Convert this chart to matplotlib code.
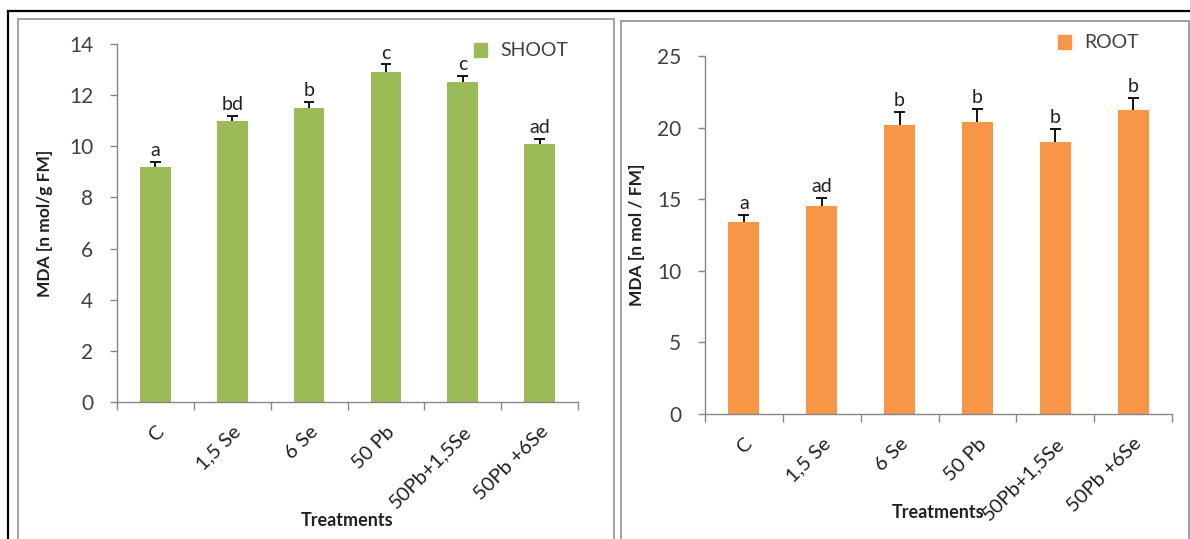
import matplotlib

matplotlib.use("Agg")
import matplotlib.pyplot as plt
from matplotlib.lines import Line2D
from matplotlib.patches import Rectangle
import numpy as np

W, H = 1190, 539

treatments = ["C", "1,5 Se", "6 Se", "50 Pb", "50Pb+1,5Se", "50Pb +6Se"]

shoot_mda = [9.2, 11.0, 11.5, 12.9, 12.5, 10.1]
shoot_err = [0.2, 0.2, 0.25, 0.3, 0.25, 0.2]
shoot_letters = ["a", "bd", "b", "c", "c", "ad"]

root_mda = [13.4, 14.5, 20.2, 20.4, 19.0, 21.2]
root_err = [0.5, 0.6, 0.9, 0.9, 0.9, 0.9]
root_letters = ["a", "ad", "b", "b", "b", "b"]

GREEN = "#9bbb59"
ORANGE = "#f79646"
AXIS = "#868686"
TXT = "#404040"

plt.rcParams["font.family"] = ["Lato", "DejaVu Sans"]


def px_rect(x0, y0, x1, y1):
    """pixel box (top-left origin) -> figure fraction [l, b, w, h]"""
    return [x0 / W, 1 - y1 / H, (x1 - x0) / W, (y1 - y0) / H]


def panel(fig, box, vals, errs, letters, color, ymax, ystep, ylabel,
          legend_label, legend_xy, ylabel_x, xlabel_y):
    ax = fig.add_axes(px_rect(*box))
    x = np.arange(len(treatments))
    top = np.array(vals) + np.array(errs)
    ax.bar(x, vals, width=0.4, color=color, zorder=2)
    # upper-only error bars with a small cap
    ax.vlines(x, vals, top, color="black", lw=1.3, zorder=3)
    ax.hlines(top, x - 0.07, x + 0.07, color="black", lw=1.3, zorder=3)
    for xi, t, lab in zip(x, top, letters):
        ax.annotate(lab, (xi, t), xytext=(0, 2), textcoords="offset points",
                    ha="center", va="bottom", fontsize=14, color="#202020")
    ax.set_xlim(-0.5, len(treatments) - 0.5)
    ax.set_ylim(0, ymax)
    ax.set_yticks(np.arange(0, ymax + 0.1, ystep))
    ax.set_xticks(x)
    ax.set_xticklabels(treatments, rotation=45, ha="right",
                       rotation_mode="anchor", fontsize=14.5, color="#202020")
    ax.set_xticks(np.arange(-0.5, len(treatments), 1), minor=True)
    ax.tick_params(axis="x", which="major", length=0, pad=15)
    ax.tick_params(axis="x", which="minor", length=6, color=AXIS, width=1)
    ax.tick_params(axis="y", length=5, color=AXIS, width=1, labelsize=15,
                   labelcolor=TXT, pad=12)
    for s in ("top", "right"):
        ax.spines[s].set_visible(False)
    for s in ("left", "bottom"):
        ax.spines[s].set_color(AXIS)
        ax.spines[s].set_linewidth(1)
    ax.set_facecolor("none")

    # labels placed in pixel space
    fig.text(ylabel_x / W, 1 - ((box[1] + box[3]) / 2) / H, ylabel,
             rotation=90, ha="center", va="center", fontsize=12.5,
             weight="bold", color="#202020")
    fig.text(((box[0] + box[2]) / 2) / W, 1 - xlabel_y / H, "Treatments",
             ha="center", va="center", fontsize=13, weight="bold",
             color="#202020")
    lx, ly = legend_xy
    fig.add_artist(Rectangle((lx / W, 1 - (ly + 7) / H), 13 / W, 14 / H,
                             transform=fig.transFigure, color=color))
    fig.text((lx + 26) / W, 1 - ly / H, legend_label, ha="left", va="center",
             fontsize=14, color=TXT)
    return ax


fig = plt.figure(figsize=(W / 100, H / 100), dpi=100, facecolor="white")

panel(fig, (117, 44, 578, 402), shoot_mda, shoot_err, shoot_letters, GREEN,
      14, 2, "MDA [n mol/g FM]", "SHOOT", (474, 50), 45, 521)
panel(fig, (705, 56, 1172, 414), root_mda, root_err, root_letters, ORANGE,
      25, 5, "MDA [n mol / FM]", "ROOT", (1058, 42), 637, 512)


def hline(x0, x1, y, color, lw):
    fig.add_artist(Line2D([x0 / W, x1 / W], [1 - y / H, 1 - y / H],
                          transform=fig.transFigure, color=color, lw=lw))


def vline(x, y0, y1, color, lw):
    fig.add_artist(Line2D([x / W, x / W], [1 - y0 / H, 1 - y1 / H],
                          transform=fig.transFigure, color=color, lw=lw))


# outer black frame
hline(8, W, 11, "black", 1.6)
vline(8, 11, H, "black", 1.6)
# grey panel frames
hline(18, 614, 19, "#a0a0a0", 1.4)
vline(18, 19, H, "#a0a0a0", 1.4)
vline(614, 19, H, "#a0a0a0", 1.4)
hline(621, 1189, 21, "#a0a0a0", 1.4)
vline(621, 21, H, "#a0a0a0", 1.4)
vline(1189, 21, H, "#a0a0a0", 1.4)

fig.savefig("out.png", dpi=100, facecolor="white")
